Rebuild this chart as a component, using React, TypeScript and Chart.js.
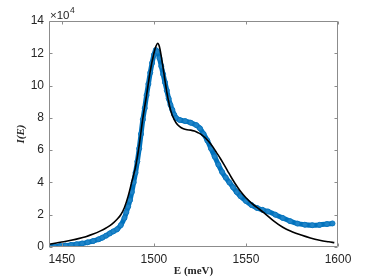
import React, { useEffect, useRef } from "react";
import { Chart, registerables } from "chart.js";

Chart.register(...registerables);

// Measured spectrum (blue markers), intensity in units of 1e4
const measEnergy = [
  1443, 1446, 1449, 1452, 1455, 1458, 1461, 1464, 1467, 1470, 1472, 1474, 1476, 1478, 1480,
  1482, 1484, 1485, 1486, 1487, 1488, 1489, 1490, 1491, 1492, 1493, 1494, 1495, 1496, 1497,
  1498, 1499, 1500, 1501, 1502, 1503, 1504, 1505, 1506, 1507, 1508, 1509, 1510, 1511, 1512,
  1514, 1517, 1520, 1523, 1525, 1527, 1529, 1531, 1533, 1535, 1537, 1539, 1541, 1543, 1545,
  1547, 1550, 1553, 1556, 1559, 1562, 1566, 1570, 1574, 1578, 1582, 1586, 1590, 1594, 1597,
];
const measIntensity = [
  0.03, 0.04, 0.06, 0.09, 0.13, 0.17, 0.22, 0.29, 0.37, 0.48, 0.58, 0.7, 0.84, 0.97, 1.1,
  1.35, 1.8, 2.15, 2.5, 2.9, 3.4, 4.0, 4.6, 5.3, 6.1, 7.0, 7.9, 8.6, 9.4, 10.1,
  10.8, 11.4, 11.9, 12.2, 12.1, 11.7, 11.2, 10.7, 10.2, 9.7, 9.2, 8.8, 8.5, 8.2, 8.0,
  7.87, 7.8, 7.7, 7.55, 7.35, 7.0, 6.6, 6.1, 5.6, 5.1, 4.65, 4.3, 4.0, 3.7, 3.4,
  3.15, 2.85, 2.6, 2.42, 2.3, 2.2, 2.0, 1.8, 1.6, 1.45, 1.38, 1.35, 1.37, 1.42, 1.46,
];

// Model fit (black line), intensity in units of 1e4
const fitEnergy = [
  1443, 1447, 1451, 1455, 1459, 1463, 1467, 1471, 1474, 1477, 1480, 1482, 1484, 1486, 1488,
  1490, 1492, 1494, 1496, 1498, 1500, 1501, 1502, 1503, 1504, 1505, 1506, 1507, 1508, 1509,
  1510, 1512, 1514, 1516, 1518, 1520, 1522, 1524, 1526, 1528, 1530, 1532, 1534, 1536, 1538,
  1540, 1542, 1544, 1547, 1550, 1553, 1556, 1560, 1565, 1570, 1575, 1580, 1585, 1590, 1595,
  1598,
];
const fitIntensity = [
  0.17, 0.25, 0.33, 0.42, 0.52, 0.64, 0.8, 1.0, 1.18, 1.4, 1.72, 2.0, 2.45, 3.15, 4.05,
  4.95, 6.3, 8.0, 9.4, 10.9, 12.0, 12.4, 12.62, 12.4, 11.8, 11.1, 10.3, 9.6, 9.0, 8.5,
  8.15, 7.7, 7.45, 7.32, 7.26, 7.24, 7.18, 7.08, 6.95, 6.75, 6.5, 6.2, 5.85, 5.5, 5.12,
  4.72, 4.32, 3.95, 3.45, 3.05, 2.72, 2.45, 2.1, 1.62, 1.22, 0.95, 0.74, 0.56, 0.42, 0.32,
  0.27,
];

const xTickValues = [1450, 1500, 1550, 1600];
const yTickValues = [0, 2, 4, 6, 8, 10, 12, 14];
const xLimits = [1443, 1600];
const yLimits = [0, 14];
const xTitle = "E (meV)";
const yTitle = "I(E)";
const exponentBase = "×10";
const exponentPower = "4";

const AXIS_COLOR = "#8c8c8c";
const TEXT_COLOR = "#262626";

const boxPlugin = {
  id: "matlabBox",
  afterDatasetsDraw(chart: any) {
    const { ctx, chartArea: a, scales } = chart;
    const L = a.left + 0.5;
    const R = a.right - 0.5;
    const T = a.top + 0.5;
    const B = a.bottom - 0.5;
    const tl = 3;
    ctx.save();
    ctx.strokeStyle = AXIS_COLOR;
    ctx.lineWidth = 1;
    ctx.beginPath();
    ctx.rect(L, T, R - L, B - T);
    for (const v of xTickValues) {
      const x = Math.round(scales.x.getPixelForValue(v)) + 0.5;
      ctx.moveTo(x, B);
      ctx.lineTo(x, B - tl);
      ctx.moveTo(x, T);
      ctx.lineTo(x, T + tl);
    }
    for (const v of yTickValues) {
      const y = Math.round(scales.y.getPixelForValue(v)) + 0.5;
      ctx.moveTo(L, y);
      ctx.lineTo(L + tl, y);
      ctx.moveTo(R, y);
      ctx.lineTo(R - tl, y);
    }
    ctx.stroke();
    // exponent label
    ctx.fillStyle = TEXT_COLOR;
    ctx.textBaseline = "alphabetic";
    ctx.textAlign = "left";
    ctx.font = '11.5px "Liberation Sans", Arial, sans-serif';
    const bx = a.left + 1;
    ctx.fillText(exponentBase, bx, 18.5);
    const w = ctx.measureText(exponentBase).width;
    ctx.font = '8.5px "Liberation Sans", Arial, sans-serif';
    ctx.fillText(exponentPower, bx + w + 0.5, 13);
    ctx.restore();
  },
};

export default function App() {
  const canvasRef = useRef<HTMLCanvasElement | null>(null);

  useEffect(() => {
    if (!canvasRef.current) return;
    const fitData = fitEnergy.map((e, i) => ({ x: e, y: fitIntensity[i] }));
    const measData = measEnergy.map((e, i) => ({ x: e, y: measIntensity[i] }));
    const tickFont = { family: '"Liberation Sans", Arial, sans-serif', size: 12 };
    const chart = new Chart(canvasRef.current, {
      type: "scatter",
      data: {
        datasets: [
          {
            label: "fit",
            data: fitData,
            showLine: true,
            borderColor: "#000000",
            borderWidth: 1.6,
            pointRadius: 0,
            cubicInterpolationMode: "monotone",
            fill: false,
          } as any,
          {
            label: "data",
            data: measData,
            showLine: true,
            borderColor: "#0072BD",
            borderWidth: 5,
            pointRadius: 2.5,
            pointBorderWidth: 1,
            pointBorderColor: "#0a76bf",
            pointBackgroundColor: "#1f84c8",
            cubicInterpolationMode: "monotone",
            fill: false,
          } as any,
        ],
      },
      plugins: [boxPlugin],
      options: {
        animation: false,
        responsive: false,
        events: [],
        layout: { padding: { left: 0, top: 21, right: 36, bottom: 0 } },
        plugins: {
          legend: { display: false },
          tooltip: { enabled: false },
        },
        scales: {
          x: {
            type: "linear",
            min: xLimits[0],
            max: xLimits[1],
            afterBuildTicks: (scale: any) => {
              scale.ticks = xTickValues.map((v) => ({ value: v }));
            },
            afterFit: (scale: any) => {
              scale.height = 33;
            },
            grid: { display: false, drawTicks: false },
            border: { display: false },
            ticks: {
              color: TEXT_COLOR,
              font: tickFont,
              padding: 5,
              maxRotation: 0,
              autoSkip: false,
              callback: (v: any) => String(v),
            },
            title: {
              display: true,
              text: xTitle,
              color: TEXT_COLOR,
              font: { family: '"Liberation Serif", "DejaVu Serif", serif', size: 11, weight: "bold" },
              padding: { top: 0, bottom: 2 },
            },
          },
          y: {
            type: "linear",
            min: yLimits[0],
            max: yLimits[1],
            afterBuildTicks: (scale: any) => {
              scale.ticks = yTickValues.map((v) => ({ value: v }));
            },
            afterFit: (scale: any) => {
              scale.width = 49;
            },
            grid: { display: false, drawTicks: false },
            border: { display: false },
            ticks: {
              color: TEXT_COLOR,
              font: tickFont,
              padding: 5,
              autoSkip: false,
              callback: (v: any) => String(v),
            },
            title: {
              display: true,
              text: yTitle,
              color: TEXT_COLOR,
              font: {
                family: '"Liberation Serif", "DejaVu Serif", serif',
                size: 11,
                weight: "bold",
                style: "italic",
              },
              padding: { top: 15, bottom: 0 },
            },
          },
        },
      } as any,
    });
    return () => chart.destroy();
  }, []);

  return (
    <div style={{ position: "fixed", left: 0, top: 0, width: 374, height: 280, background: "#ffffff" }}>
      <canvas ref={canvasRef} width={374} height={280} style={{ display: "block" }} />
    </div>
  );
}
